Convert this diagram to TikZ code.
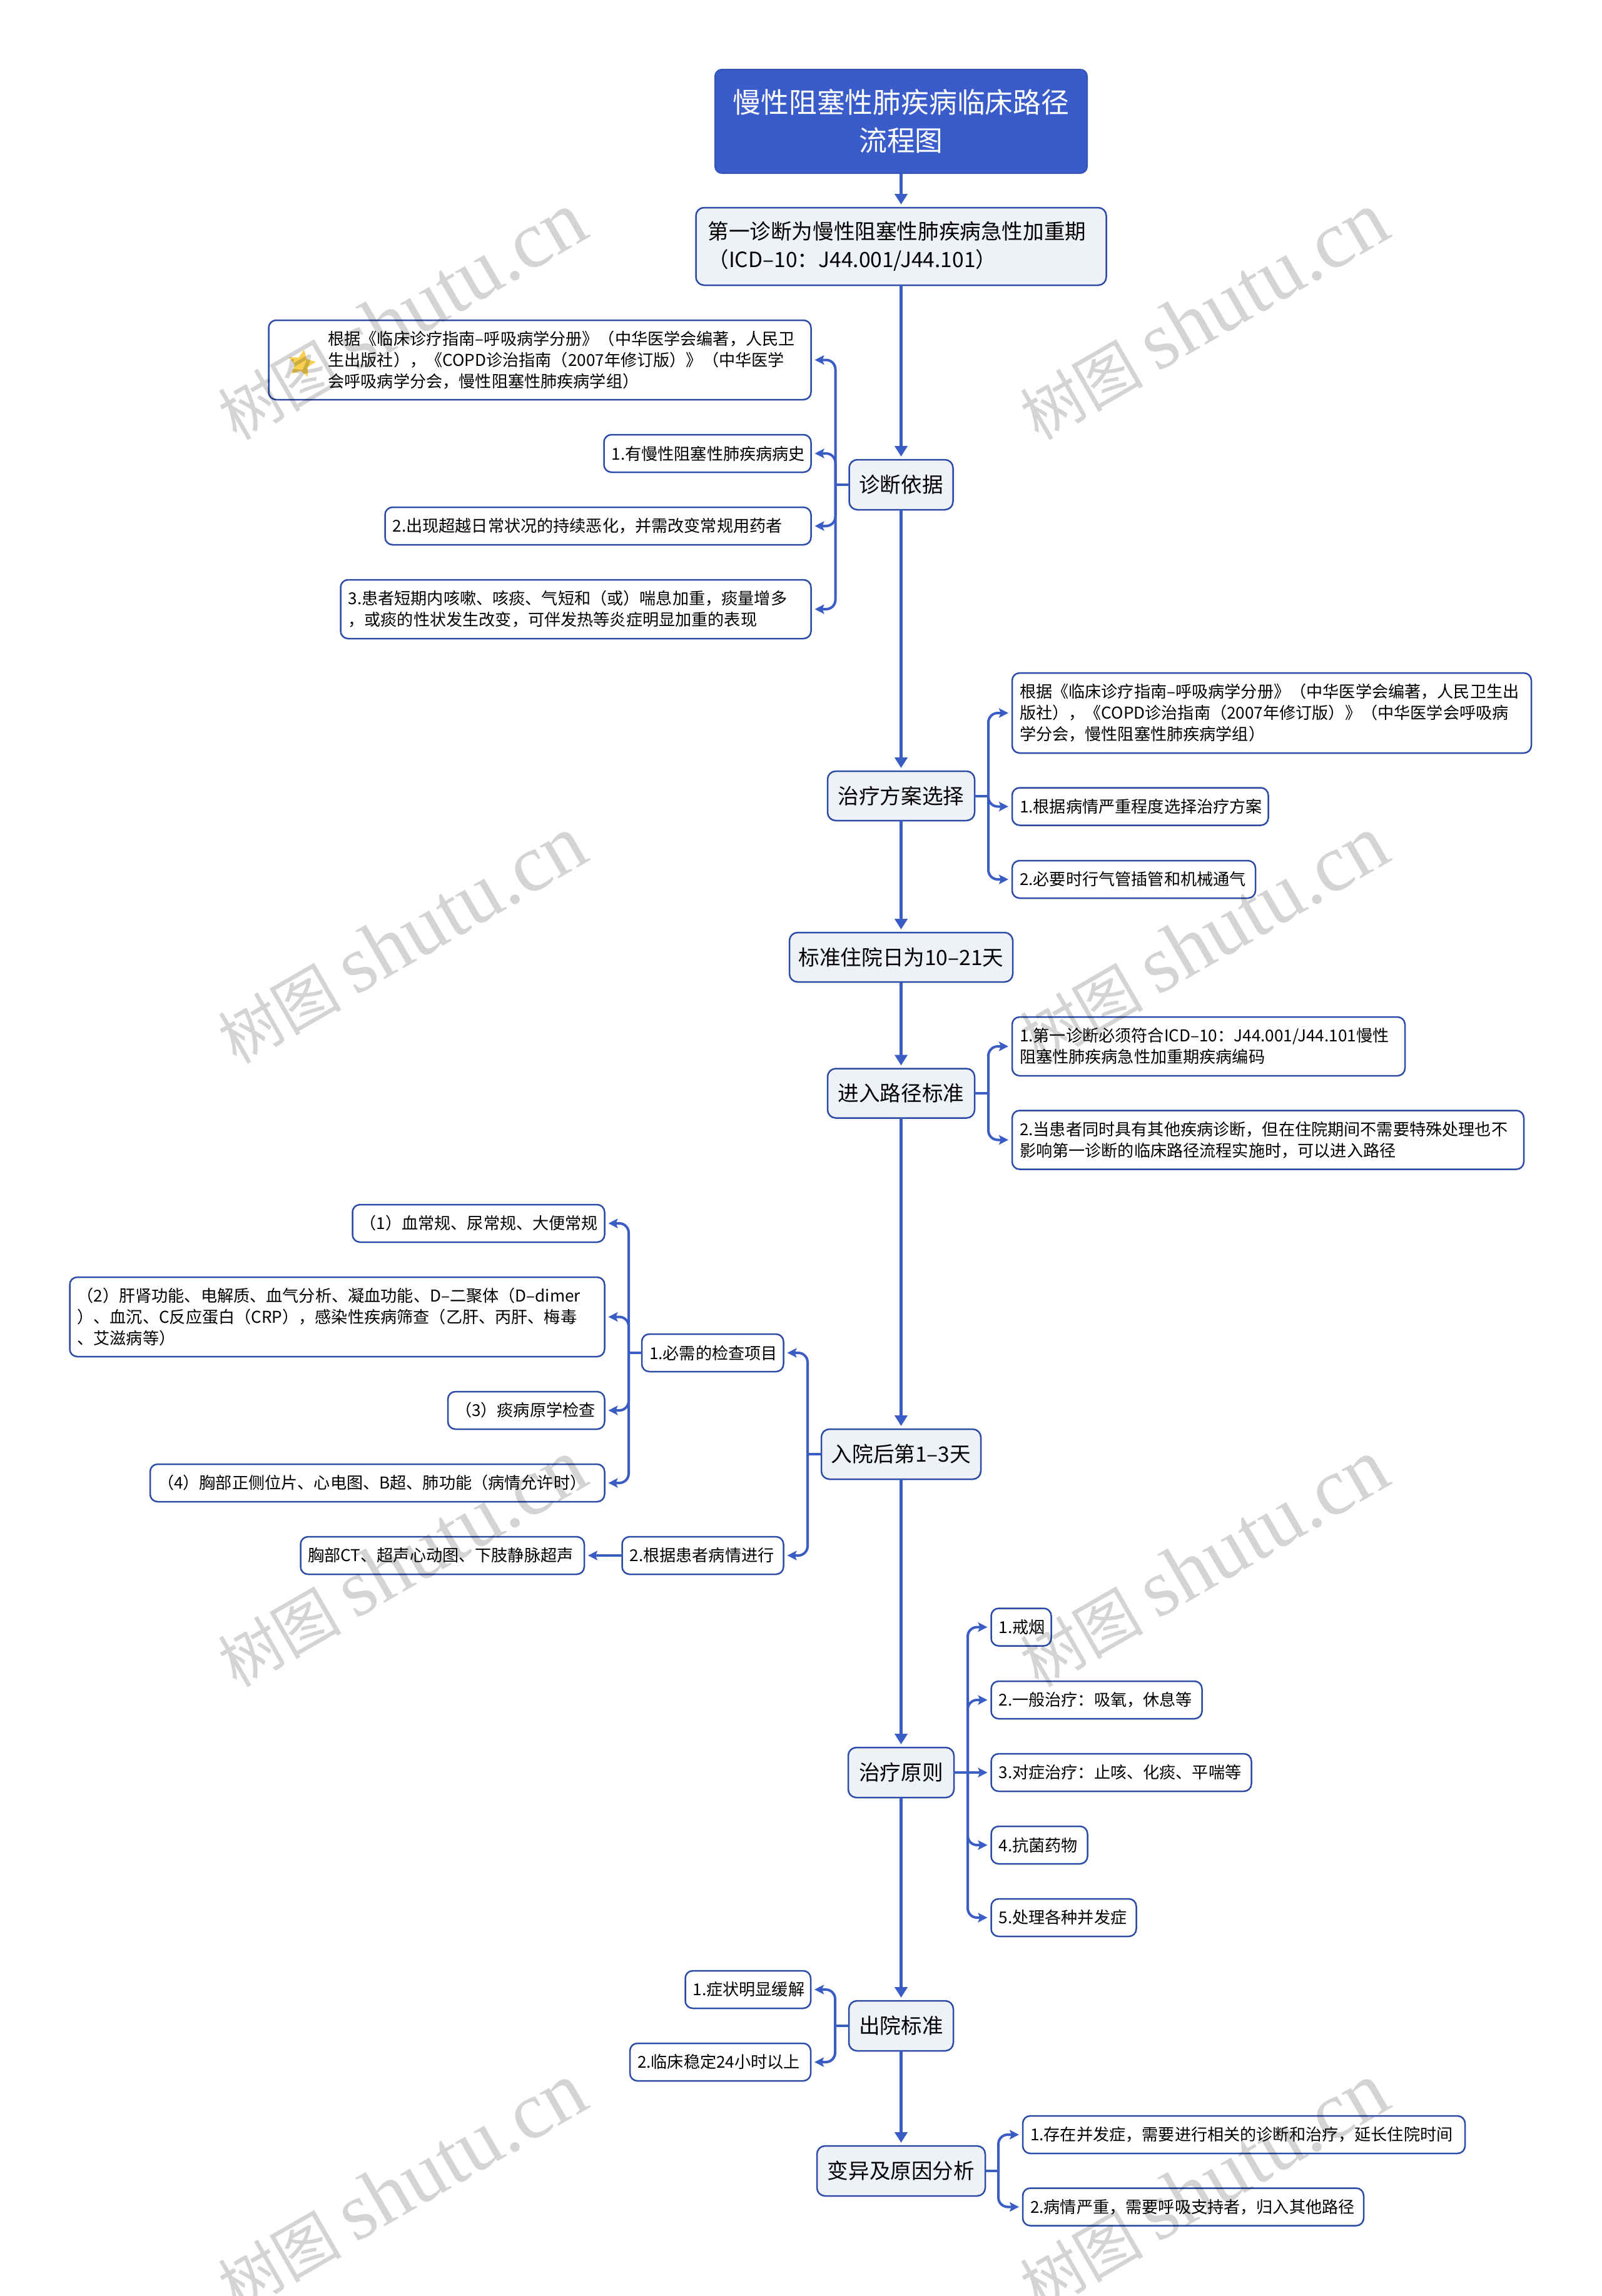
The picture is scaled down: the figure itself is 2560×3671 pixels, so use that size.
\documentclass[tikz,border=0pt]{standalone}
\usepackage{fontspec}
\usepackage{xcolor}
\usepackage{tikz}
\usetikzlibrary{arrows.meta,positioning,shapes.geometric}
\setmainfont{Noto Sans CJK SC}
\newfontfamily\wmlatin{Liberation Serif}
\definecolor{rootblue}{HTML}{3A5CCB}
\definecolor{rootedge}{HTML}{3453B8}
\definecolor{edgeblue}{HTML}{2B4BA6}
\definecolor{linkblue}{HTML}{3A5CC5}
\definecolor{mainfill}{HTML}{EEF2F6}
\definecolor{starfill}{HTML}{F9D04F}
\begin{document}
\begin{tikzpicture}[
  x=1pt, y=-1pt,
  rootbox/.style={draw=rootedge, fill=rootblue, text=white, rounded corners=11pt, line width=2pt, outer sep=0pt,
    align=center, minimum width=595pt, minimum height=166pt, font=\fontsize{44.8}{61}\selectfont},
  mainbox/.style={draw=edgeblue, fill=mainfill, rounded corners=13pt, line width=2.5pt, outer sep=0pt,
    align=left, inner xsep=0pt, minimum height=80pt, font=\fontsize{33.6}{44.5}\selectfont},
  leaf/.style={draw=edgeblue, fill=white, rounded corners=12pt, line width=2.5pt, outer sep=0pt,
    align=left, inner xsep=12pt, inner ysep=0pt, text width=#1pt-24pt, minimum height=60pt, font=\fontsize{26.15}{34}\selectfont},
  arr/.style={-{Triangle[length=17pt,width=20pt]}, line width=5.5pt, draw=linkblue, shorten >=5pt},
  fork/.style={-{Stealth[length=15pt,width=15pt,inset=3pt]}, line width=4pt, draw=linkblue, rounded corners=15pt, shorten >=6pt},
  stub/.style={line width=4pt, draw=linkblue},
  wmtext/.style={text=black, text opacity=0.17, rotate=30, inner sep=0pt, font=\fontsize{99}{120}\selectfont}
]
\useasboundingbox (0,0) rectangle (2560,3671);
\node[rootbox] (root) at (1440.5,194) {慢性阻塞性肺疾病临床路径\\流程图};
\node[mainbox, inner xsep=19pt, text width=618pt, minimum height=124pt, below=55pt of root] (first) {第一诊断为慢性阻塞性肺疾病急性加重期\\（ICD–10：J44.001/J44.101）};
\node[mainbox, minimum width=166pt, below=279pt of first] (dx) {诊断依据};
\node[mainbox, minimum width=235pt, minimum height=79pt, below=418pt of dx] (plan) {治疗方案选择};
\node[mainbox, minimum width=357pt, minimum height=79pt, below=179pt of plan] (days) {标准住院日为10–21天};
\node[mainbox, minimum width=235pt, minimum height=79pt, below=138.5pt of days] (entry) {进入路径标准};
\node[mainbox, minimum width=255pt, below=497.5pt of entry] (admit) {入院后第1–3天};
\node[mainbox, minimum width=169pt, below=429pt of admit] (prin) {治疗原则};
\node[mainbox, minimum width=167pt, below=325pt of prin] (leave) {出院标准};
\node[mainbox, minimum width=269pt, below=152pt of leave] (vary) {变异及原因分析};

\node[leaf=867, minimum height=127pt, left=61pt of dx, yshift=199.5pt] (dxnote) {\hspace*{83pt}根据《临床诊疗指南–呼吸病学分册》（中华医学会编著，人民卫\\\hspace*{83pt}生出版社），《COPD诊治指南（2007年修订版）》（中华医学\\\hspace*{83pt}会呼吸病学分会，慢性阻塞性肺疾病学组）};
\node[star, star points=5, star point ratio=2.1, fill=starfill, rotate=-10, inner sep=0pt, minimum size=46pt, xshift=53pt, yshift=3pt] (dxstar) at (dxnote.west) {};
\node[leaf=331, left=61pt of dx, yshift=50pt] (dxa) {1.有慢性阻塞性肺疾病病史};
\node[leaf=681, left=61pt of dx, yshift=-66pt] (dxb) {2.出现超越日常状况的持续恶化，并需改变常规用药者};
\node[leaf=752, minimum height=94pt, left=61pt of dx, yshift=-199pt] (dxc) {3.患者短期内咳嗽、咳痰、气短和（或）喘息加重，痰量增多\\，或痰的性状发生改变，可伴发热等炎症明显加重的表现};

\node[leaf=830, minimum height=128pt, right=60pt of plan, yshift=132.5pt] (plannote) {根据《临床诊疗指南–呼吸病学分册》（中华医学会编著，人民卫生出\\版社），《COPD诊治指南（2007年修订版）》（中华医学会呼吸病\\学分会，慢性阻塞性肺疾病学组）};
\node[leaf=409.5, right=60pt of plan, yshift=-17pt] (plana) {1.根据病情严重程度选择治疗方案};
\node[leaf=389, right=60pt of plan, yshift=-133.5pt] (planb) {2.必要时行气管插管和机械通气};

\node[leaf=628, minimum height=94pt, right=60pt of entry, yshift=75pt] (entrya) {1.第一诊断必须符合ICD–10：J44.001/J44.101慢性\\阻塞性肺疾病急性加重期疾病编码};
\node[leaf=818, minimum height=94pt, right=60pt of entry, yshift=-74.5pt] (entryb) {2.当患者同时具有其他疾病诊断，但在住院期间不需要特殊处理也不\\影响第一诊断的临床路径流程实施时，可以进入路径};

\node[leaf=226.5, left=60.5pt of admit, yshift=162pt] (check) {1.必需的检查项目};
\node[leaf=258, left=60.5pt of admit, yshift=-162pt] (other) {2.根据患者病情进行};
\node[leaf=403, left=59.5pt of check, yshift=207pt] (checka) {（1）血常规、尿常规、大便常规};
\node[leaf=855, minimum height=127pt, left=59.5pt of check, yshift=57.5pt] (checkb) {（2）肝肾功能、电解质、血气分析、凝血功能、D–二聚体（D–dimer\\）、血沉、C反应蛋白（CRP），感染性疾病筛查（乙肝、丙肝、梅毒\\、艾滋病等）};
\node[leaf=250.5, left=59.5pt of check, yshift=-92pt] (checkc) {（3）痰病原学检查};
\node[leaf=726.5, left=59.5pt of check, yshift=-208pt] (checkd) {（4）胸部正侧位片、心电图、B超、肺功能（病情允许时）};
\node[leaf=453.5, left=60.5pt of other] (otherct) {胸部CT、超声心动图、下肢静脉超声};

\node[leaf=96, right=59.5pt of prin, yshift=232.5pt] (prina) {1.戒烟};
\node[leaf=337, right=59.5pt of prin, yshift=116pt] (prinb) {2.一般治疗：吸氧，休息等};
\node[leaf=416, right=59.5pt of prin] (princ) {3.对症治疗：止咳、化痰、平喘等};
\node[leaf=154, right=59.5pt of prin, yshift=-116pt] (prind) {4.抗菌药物};
\node[leaf=232, right=59.5pt of prin, yshift=-232pt] (prine) {5.处理各种并发症};

\node[leaf=200.5, left=61pt of leave, yshift=58pt] (leavea) {1.症状明显缓解};
\node[leaf=289, left=61pt of leave, yshift=-58pt] (leaveb) {2.临床稳定24小时以上};

\node[leaf=707, right=60pt of vary, yshift=58pt] (varya) {1.存在并发症，需要进行相关的诊断和治疗，延长住院时间};
\node[leaf=545, right=60pt of vary, yshift=-57.5pt] (varyb) {2.病情严重，需要呼吸支持者，归入其他路径};

\coordinate[left=22pt of dx] (dxfork);
\coordinate[right=22pt of plan] (planfork);
\coordinate[right=22pt of entry] (entryfork);
\coordinate[left=22pt of admit] (admitfork);
\coordinate[left=21pt of check] (checkfork);
\coordinate[right=22pt of prin] (prinfork);
\coordinate[left=22pt of leave] (leavefork);
\coordinate[right=21pt of vary] (varyfork);

\draw[arr] (root) -- (first);
\draw[arr] (first) -- (dx);
\draw[arr] (dx) -- (plan);
\draw[arr] (plan) -- (days);
\draw[arr] (days) -- (entry);
\draw[arr] (entry) -- (admit);
\draw[arr] (admit) -- (prin);
\draw[arr] (prin) -- (leave);
\draw[arr] (leave) -- (vary);

\draw[stub] (dx.west) -- (dxfork);
\draw[fork] (dxfork) |- (dxnote.east);
\draw[fork] (dxfork) |- (dxa.east);
\draw[fork] (dxfork) |- (dxb.east);
\draw[fork] (dxfork) |- (dxc.east);
\draw[stub] (plan.east) -- (planfork);
\draw[fork] (planfork) |- (plannote.west);
\draw[fork] (planfork) |- (plana.west);
\draw[fork] (planfork) |- (planb.west);
\draw[stub] (entry.east) -- (entryfork);
\draw[fork] (entryfork) |- (entrya.west);
\draw[fork] (entryfork) |- (entryb.west);
\draw[stub] (admit.west) -- (admitfork);
\draw[fork] (admitfork) |- (check.east);
\draw[fork] (admitfork) |- (other.east);
\draw[stub] (check.west) -- (checkfork);
\draw[fork] (checkfork) |- (checka.east);
\draw[fork] (checkfork) |- (checkb.east);
\draw[fork] (checkfork) |- (checkc.east);
\draw[fork] (checkfork) |- (checkd.east);
\draw[fork] (other.west) -- (otherct.east);
\draw[stub] (prin.east) -- (prinfork);
\draw[fork] (prinfork) |- (prina.west);
\draw[fork] (prinfork) |- (prinb.west);
\draw[fork] (prin.east) -- (princ.west);
\draw[fork] (prinfork) |- (prind.west);
\draw[fork] (prinfork) |- (prine.west);
\draw[stub] (leave.west) -- (leavefork);
\draw[fork] (leavefork) |- (leavea.east);
\draw[fork] (leavefork) |- (leaveb.east);
\draw[stub] (vary.east) -- (varyfork);
\draw[fork] (varyfork) |- (varya.west);
\draw[fork] (varyfork) |- (varyb.west);

\foreach \wmx in {642,1924}
  \foreach \wmy in {506,1503,2500,3497}
    \node[wmtext] (wm\wmx\wmy) at (\wmx,\wmy) {树图 {\wmlatin\fontsize{130}{120}\selectfont shutu.cn}};
\end{tikzpicture}
\end{document}
